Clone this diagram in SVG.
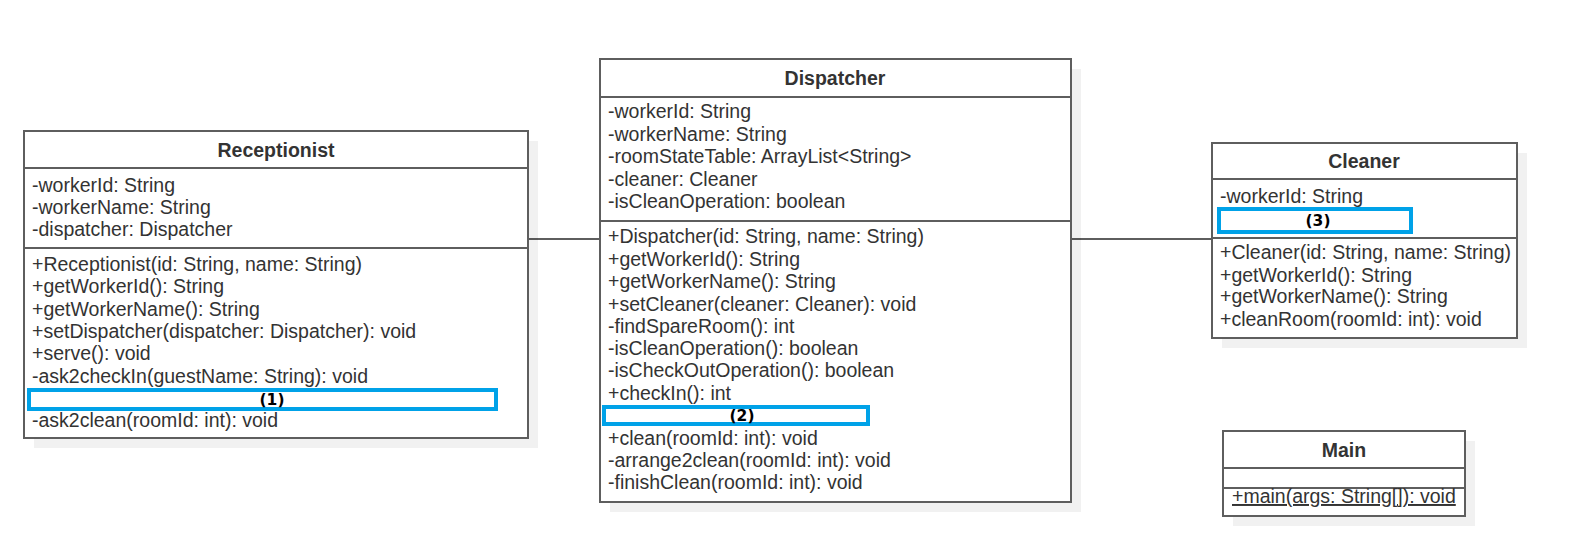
<svg xmlns="http://www.w3.org/2000/svg" width="1590" height="544" viewBox="0 0 1590 544">
<style>
.box{fill:#fff;stroke:#5e5e5e;stroke-width:2}
.sh{fill:#000;fill-opacity:0.055}
.div{stroke:#5e5e5e;stroke-width:2}
.t{font-family:"Liberation Sans",Arial,sans-serif;font-size:19.5px;fill:#333}
.h{font-family:"Liberation Sans",Arial,sans-serif;font-size:19.5px;font-weight:bold;fill:#333;text-anchor:middle}
.hl{fill:none;stroke:#00A2E8;stroke-width:4}
.n{font-family:"DejaVu Sans",Verdana,sans-serif;font-size:15.5px;font-weight:bold;fill:#000;text-anchor:middle}
.c{stroke:#5e5e5e;stroke-width:2;fill:none}
</style>
<rect width="1590" height="544" fill="#fff"/>
<g id="connectors">
<line class="c" x1="528" y1="239" x2="600" y2="239"/>
<line class="c" x1="1071" y1="239" x2="1212" y2="239"/>
</g>
<g id="receptionist">
<rect class="sh" x="34" y="141" width="504" height="307"/>
<rect class="box" x="24" y="131" width="504" height="307"/>
<line class="div" x1="24" y1="168" x2="528" y2="168"/>
<line class="div" x1="24" y1="248" x2="528" y2="248"/>
<text class="h" x="276" y="157">Receptionist</text>
<text class="t" x="32" y="192">-workerId: String</text>
<text class="t" x="32" y="214">-workerName: String</text>
<text class="t" x="32" y="236">-dispatcher: Dispatcher</text>
<text class="t" x="32" y="271">+Receptionist(id: String, name: String)</text>
<text class="t" x="32" y="293">+getWorkerId(): String</text>
<text class="t" x="32" y="316">+getWorkerName(): String</text>
<text class="t" x="32" y="338">+setDispatcher(dispatcher: Dispatcher): void</text>
<text class="t" x="32" y="360">+serve(): void</text>
<text class="t" x="32" y="383">-ask2checkIn(guestName: String): void</text>
<rect class="hl" x="29" y="390" width="467" height="19"/>
<text class="n" x="272" y="405">(1)</text>
<text class="t" x="32" y="427">-ask2clean(roomId: int): void</text>
</g>
<g id="dispatcher">
<rect class="sh" x="610" y="69" width="471" height="443"/>
<rect class="box" x="600" y="59" width="471" height="443"/>
<line class="div" x1="600" y1="97" x2="1071" y2="97"/>
<line class="div" x1="600" y1="221" x2="1071" y2="221"/>
<text class="h" x="835" y="85">Dispatcher</text>
<text class="t" x="608" y="118">-workerId: String</text>
<text class="t" x="608" y="141">-workerName: String</text>
<text class="t" x="608" y="163">-roomStateTable: ArrayList&lt;String&gt;</text>
<text class="t" x="608" y="186">-cleaner: Cleaner</text>
<text class="t" x="608" y="208">-isCleanOperation: boolean</text>
<text class="t" x="608" y="243">+Dispatcher(id: String, name: String)</text>
<text class="t" x="608" y="266">+getWorkerId(): String</text>
<text class="t" x="608" y="288">+getWorkerName(): String</text>
<text class="t" x="608" y="311">+setCleaner(cleaner: Cleaner): void</text>
<text class="t" x="608" y="333">-findSpareRoom(): int</text>
<text class="t" x="608" y="355">-isCleanOperation(): boolean</text>
<text class="t" x="608" y="377">-isCheckOutOperation(): boolean</text>
<text class="t" x="608" y="400">+checkIn(): int</text>
<rect class="hl" x="604" y="407" width="264" height="17"/>
<text class="n" x="742" y="421">(2)</text>
<text class="t" x="608" y="445">+clean(roomId: int): void</text>
<text class="t" x="608" y="467">-arrange2clean(roomId: int): void</text>
<text class="t" x="608" y="489">-finishClean(roomId: int): void</text>
</g>
<g id="cleaner">
<rect class="sh" x="1222" y="153" width="305" height="195"/>
<rect class="box" x="1212" y="143" width="305" height="195"/>
<line class="div" x1="1212" y1="179" x2="1517" y2="179"/>
<line class="div" x1="1212" y1="238" x2="1517" y2="238"/>
<text class="h" x="1364" y="168">Cleaner</text>
<text class="t" x="1220" y="203">-workerId: String</text>
<rect class="hl" x="1219" y="209" width="192" height="23"/>
<text class="n" x="1318" y="226">(3)</text>
<text class="t" x="1220" y="259">+Cleaner(id: String, name: String)</text>
<text class="t" x="1220" y="282">+getWorkerId(): String</text>
<text class="t" x="1220" y="303">+getWorkerName(): String</text>
<text class="t" x="1220" y="326">+cleanRoom(roomId: int): void</text>
</g>
<g id="main">
<rect class="sh" x="1233" y="441" width="242" height="85"/>
<rect class="box" x="1223" y="431" width="242" height="85"/>
<line class="div" x1="1223" y1="468" x2="1465" y2="468"/>
<line class="div" x1="1223" y1="488" x2="1465" y2="488"/>
<text class="h" x="1344" y="457">Main</text>
<text class="t" x="1232" y="503" text-decoration="underline">+main(args: String[]): void</text>
</g>
</svg>
